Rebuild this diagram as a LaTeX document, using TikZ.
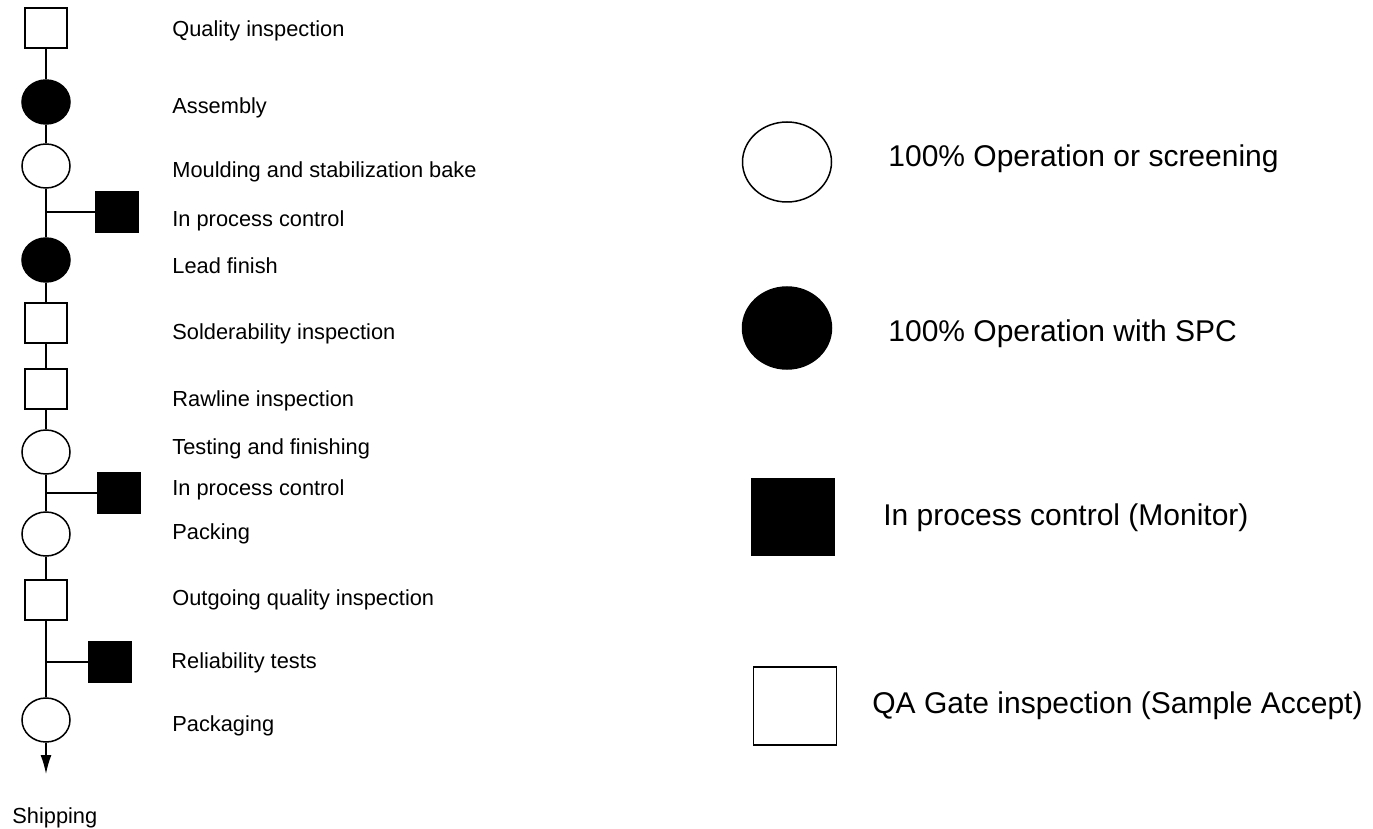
\documentclass[tikz,border=0pt]{standalone}
\usepackage{fontspec}
\setmainfont{Liberation Sans}
\usepackage{tikz}
\usetikzlibrary{shapes.geometric, arrows.meta, positioning, calc}

\begin{document}
\begin{tikzpicture}[x=0.5pt, y=-0.5pt,
        gatebox/.style={rectangle, draw=black, fill=white, line width=0.75pt, inner sep=0pt, minimum width=21pt, minimum height=20pt},
        ctrlbox/.style={rectangle, draw=black, fill=black, line width=0.75pt, inner sep=0pt, minimum width=21.5pt, minimum height=20.5pt},
        opnode/.style={ellipse, draw=black, fill=white, line width=0.75pt, inner sep=0pt, minimum width=24pt, minimum height=22pt},
        spcnode/.style={opnode, fill=black},
        steplabel/.style={anchor=base west, inner sep=0pt, font=\fontsize{10.9}{13}\selectfont},
        keylabel/.style={anchor=base west, inner sep=0pt, font=\fontsize{15}{18}\selectfont},
        line/.style={draw=black, line width=0.75pt}]

        \useasboundingbox (0,0) rectangle (1373,829);

        % process flow
        \node [gatebox] (qi) at (46,28) {};
        \node [spcnode] (asm) at (46,102) {};
        \node [opnode] (mould) at (46,166) {};
        \node [ctrlbox] (ipc1) at (117,212) {};
        \node [spcnode] (lead) at (46,260) {};
        \node [gatebox] (sold) at (46,323) {};
        \node [gatebox] (raw) at (46,389) {};
        \node [opnode] (test) at (46,452) {};
        \node [ctrlbox] (ipc2) at (119,493) {};
        \node [opnode] (pack) at (46,534) {};
        \node [gatebox] (ogq) at (46,600) {};
        \node [ctrlbox] (rel) at (110,662) {};
        \node [opnode] (pkg) at (46,720) {};
        \coordinate (ship) at (46,774);

        \node [steplabel] (qilbl) at (172,37) {Quality inspection};
        \node [steplabel] (asmlbl) at (172,114) {Assembly};
        \node [steplabel] (mouldlbl) at (172,177) {Moulding and stabilization bake};
        \node [steplabel] (ipc1lbl) at (172,227) {In process control};
        \node [steplabel] (leadlbl) at (172,274) {Lead finish};
        \node [steplabel] (soldlbl) at (172,339) {Solderability inspection};
        \node [steplabel] (rawlbl) at (172,407) {Rawline inspection};
        \node [steplabel] (testlbl) at (172,454) {Testing and finishing};
        \node [steplabel] (ipc2lbl) at (172,495) {In process control};
        \node [steplabel] (packlbl) at (172,539) {Packing};
        \node [steplabel] (ogqlbl) at (172,605) {Outgoing quality inspection};
        \node [steplabel] (rellbl) at (171,668) {Reliability tests};
        \node [steplabel] (pkglbl) at (172,731) {Packaging};
        \node [steplabel] (shiplbl) at (12,823) {Shipping};

        \path [line] (qi) -- (asm);
        \path [line] (asm) -- (mould);
        \path [line] (mould) -- (lead);
        \path [line] (mould |- ipc1) -- (ipc1);
        \path [line] (lead) -- (sold);
        \path [line] (sold) -- (raw);
        \path [line] (raw) -- (test);
        \path [line] (test) -- (pack);
        \path [line] (test |- ipc2) -- (ipc2);
        \path [line] (pack) -- (ogq);
        \path [line] (ogq) -- (pkg);
        \path [line] (ogq |- rel) -- (rel);
        \path [line, -{Latex[length=9.5pt, width=5.5pt]}] (pkg) -- (ship);

        % legend
        \node [opnode, minimum width=44.5pt, minimum height=40pt] (keyop) at (787,162) {};
        \node [spcnode, minimum width=44.5pt, minimum height=41pt] (keyspc) at (787,328) {};
        \node [ctrlbox, minimum width=41pt, minimum height=38.5pt] (keyctrl) at (793,517) {};
        \node [gatebox, minimum width=41.5pt, minimum height=39pt] (keygate) at (795,706) {};

        \node [keylabel] (keyoplbl) at (888,167) {100\% Operation or screening};
        \node [keylabel] (keyspclbl) at (888,342) {100\% Operation with SPC};
        \node [keylabel] (keyctrllbl) at (883,525) {In process control (Monitor)};
        \node [keylabel] (keygatelbl) at (872,713) {QA Gate inspection (Sample Accept)};
    \end{tikzpicture}
\end{document}
